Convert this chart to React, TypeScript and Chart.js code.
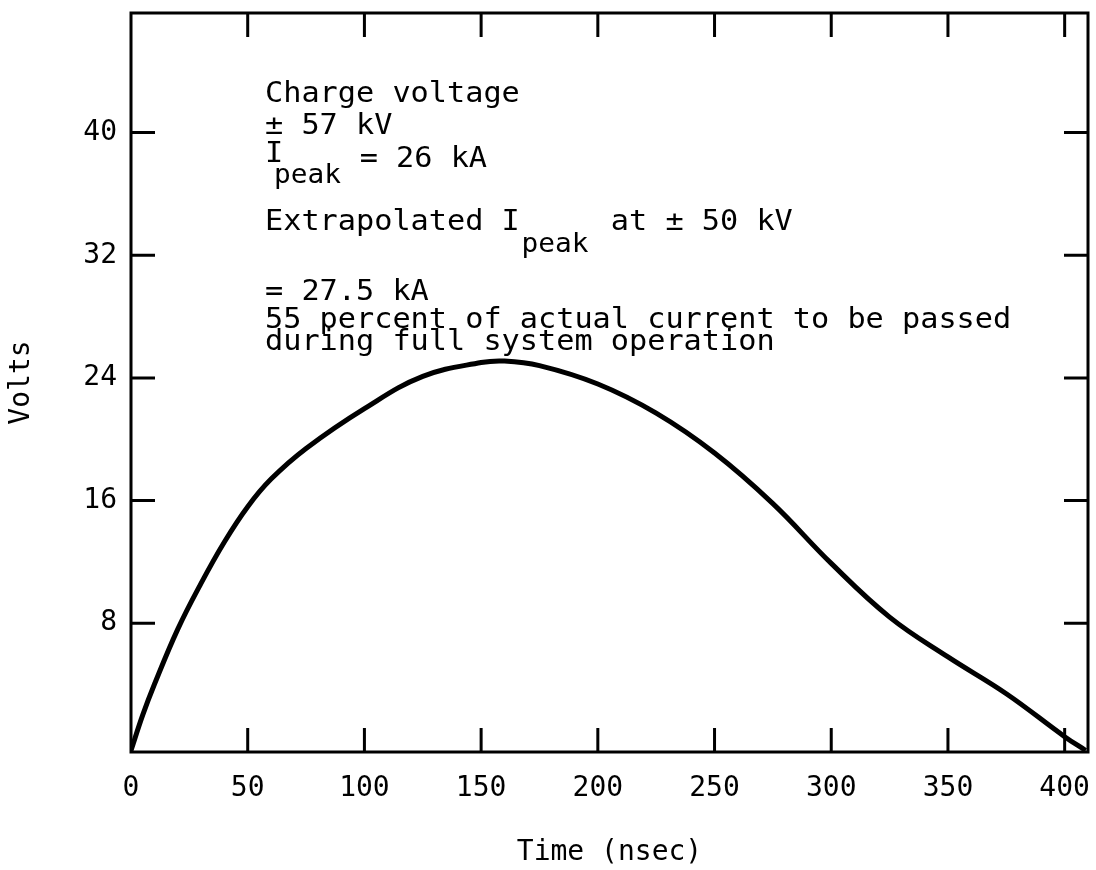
import React, { useEffect, useRef } from "react";
import { Chart, registerables } from "chart.js";

Chart.register(...registerables);

// ---- data ----
const timeNs = [0, 5, 10, 20, 30, 40, 50, 60, 75, 100, 125, 150, 160, 175, 200, 225, 250, 275, 300, 325, 350, 375, 400, 409];
const volts = [-0.3, 2.0, 4.0, 7.6, 10.6, 13.3, 15.6, 17.4, 19.4, 22.0, 24.1, 25.0, 25.1, 24.8, 23.6, 21.7, 19.1, 15.8, 11.9, 8.4, 5.8, 3.4, 0.6, -0.3];

const xTickLabels = [0, 50, 100, 150, 200, 250, 300, 350, 400];
const xTickMarks = [50, 100, 150, 200, 250, 300, 350, 400];
const yTickLabels = [8, 16, 24, 32, 40];

const xTitle = "Time (nsec)";
const yTitle = "Volts";

const FONT = "'DejaVu Sans Mono', 'Liberation Mono', monospace";

// annotation text: column offsets in character widths, y in px
const noteLines = [
  { text: "Charge voltage", col: 0, y: 95, size: 28 },
  { text: "\u00B1 57 kV", col: 0, y: 127, size: 28 },
  { text: "I", col: 0, y: 155, size: 28 },
  { text: "peak", col: 0.5, y: 176, size: 27 },
  { text: "= 26 kA", col: 5.2, y: 160, size: 28 },
  { text: "Extrapolated I", col: 0, y: 223, size: 28 },
  { text: "peak", col: 14.1, y: 245, size: 27 },
  { text: "at \u00B1 50 kV", col: 19, y: 223, size: 28 },
  { text: "= 27.5 kA", col: 0, y: 293, size: 28 },
  { text: "55 percent of actual current to be passed", col: 0, y: 321, size: 28 },
  { text: "during full system operation", col: 0, y: 343, size: 28 },
];

const frameTicksPlugin = {
  id: "frameTicks",
  beforeDatasetsDraw(chart: any) {
    const { ctx, chartArea: a, scales } = chart;
    ctx.save();
    ctx.strokeStyle = "#000";
    ctx.lineWidth = 3;
    ctx.strokeRect(a.left, a.top, a.right - a.left, a.bottom - a.top);
    const L = 24;
    ctx.beginPath();
    for (const v of xTickMarks) {
      const px = scales.x.getPixelForValue(v);
      ctx.moveTo(px, a.top);
      ctx.lineTo(px, a.top + L);
      ctx.moveTo(px, a.bottom);
      ctx.lineTo(px, a.bottom - L);
    }
    for (const v of yTickLabels) {
      const py = scales.y.getPixelForValue(v);
      ctx.moveTo(a.left, py);
      ctx.lineTo(a.left + L, py);
      ctx.moveTo(a.right, py);
      ctx.lineTo(a.right - L, py);
    }
    ctx.stroke();
    ctx.restore();
  },
};

const notesPlugin = {
  id: "notes",
  afterDraw(chart: any) {
    const { ctx, chartArea: a } = chart;
    const x0 = a.left + 134;
    const cw = 18.2;
    ctx.save();
    ctx.fillStyle = "#000";
    ctx.textAlign = "left";
    ctx.textBaseline = "middle";
    for (const ln of noteLines) {
      ctx.font = `${ln.size}px ${FONT}`;
      const natural = ctx.measureText("0").width || cw;
      const sx = (ln.size >= 28 ? cw : cw * 0.92) / natural;
      ctx.save();
      ctx.translate(x0 + ln.col * cw, ln.y);
      ctx.scale(sx, 1);
      ctx.fillText(ln.text, 0, 0);
      ctx.restore();
    }
    ctx.restore();
  },
};

export default function App() {
  const ref = useRef<HTMLCanvasElement | null>(null);

  useEffect(() => {
    if (!ref.current) return;
    const chart = new Chart(ref.current, {
      type: "line",
      data: {
        datasets: [
          {
            data: timeNs.map((t, i) => ({ x: t, y: volts[i] })),
            borderColor: "#000",
            borderWidth: 5,
            pointRadius: 0,
            fill: false,
            tension: 0.4,
          },
        ],
      },
      options: {
        animation: false,
        responsive: false,
        devicePixelRatio: 1,
        layout: { padding: { left: 0, top: 13, right: 8, bottom: 0 } },
        plugins: {
          legend: { display: false },
          tooltip: { enabled: false },
        },
        scales: {
          x: {
            type: "linear",
            min: 0,
            max: 410,
            afterBuildTicks: (s: any) => {
              s.ticks = xTickLabels.map((v) => ({ value: v }));
            },
            afterFit: (s: any) => {
              s.height = 118;
              s.paddingLeft = 0;
              s.paddingRight = 0;
              s.paddingTop = 0;
              s.paddingBottom = 0;
            },
            grid: { display: false, drawTicks: false },
            border: { display: false },
            ticks: {
              color: "#000",
              font: { family: FONT, size: 28 },
              padding: 20,
              maxRotation: 0,
              autoSkip: false,
            },
            title: {
              display: true,
              text: xTitle,
              color: "#000",
              font: { family: FONT, size: 28 },
              padding: { top: 0, bottom: 0 },
            },
          },
          y: {
            type: "linear",
            min: -0.4,
            max: 47.8,
            afterBuildTicks: (s: any) => {
              s.ticks = yTickLabels.map((v) => ({ value: v }));
            },
            afterFit: (s: any) => {
              s.width = 131;
              s.paddingLeft = 0;
              s.paddingRight = 0;
              s.paddingTop = 0;
              s.paddingBottom = 0;
            },
            grid: { display: false, drawTicks: false },
            border: { display: false },
            ticks: {
              color: "#000",
              font: { family: FONT, size: 28 },
              padding: 14,
              autoSkip: false,
            },
            title: {
              display: true,
              text: yTitle,
              color: "#000",
              font: { family: FONT, size: 28 },
              padding: { top: 5, bottom: 0 },
            },
          },
        },
      },
      plugins: [frameTicksPlugin, notesPlugin],
    } as any);
    return () => chart.destroy();
  }, []);

  return (
    <div style={{ position: "fixed", left: 0, top: 0, width: 1096, height: 870, background: "#fff" }}>
      <canvas ref={ref} width={1096} height={870} style={{ display: "block", width: 1096, height: 870 }} />
    </div>
  );
}
